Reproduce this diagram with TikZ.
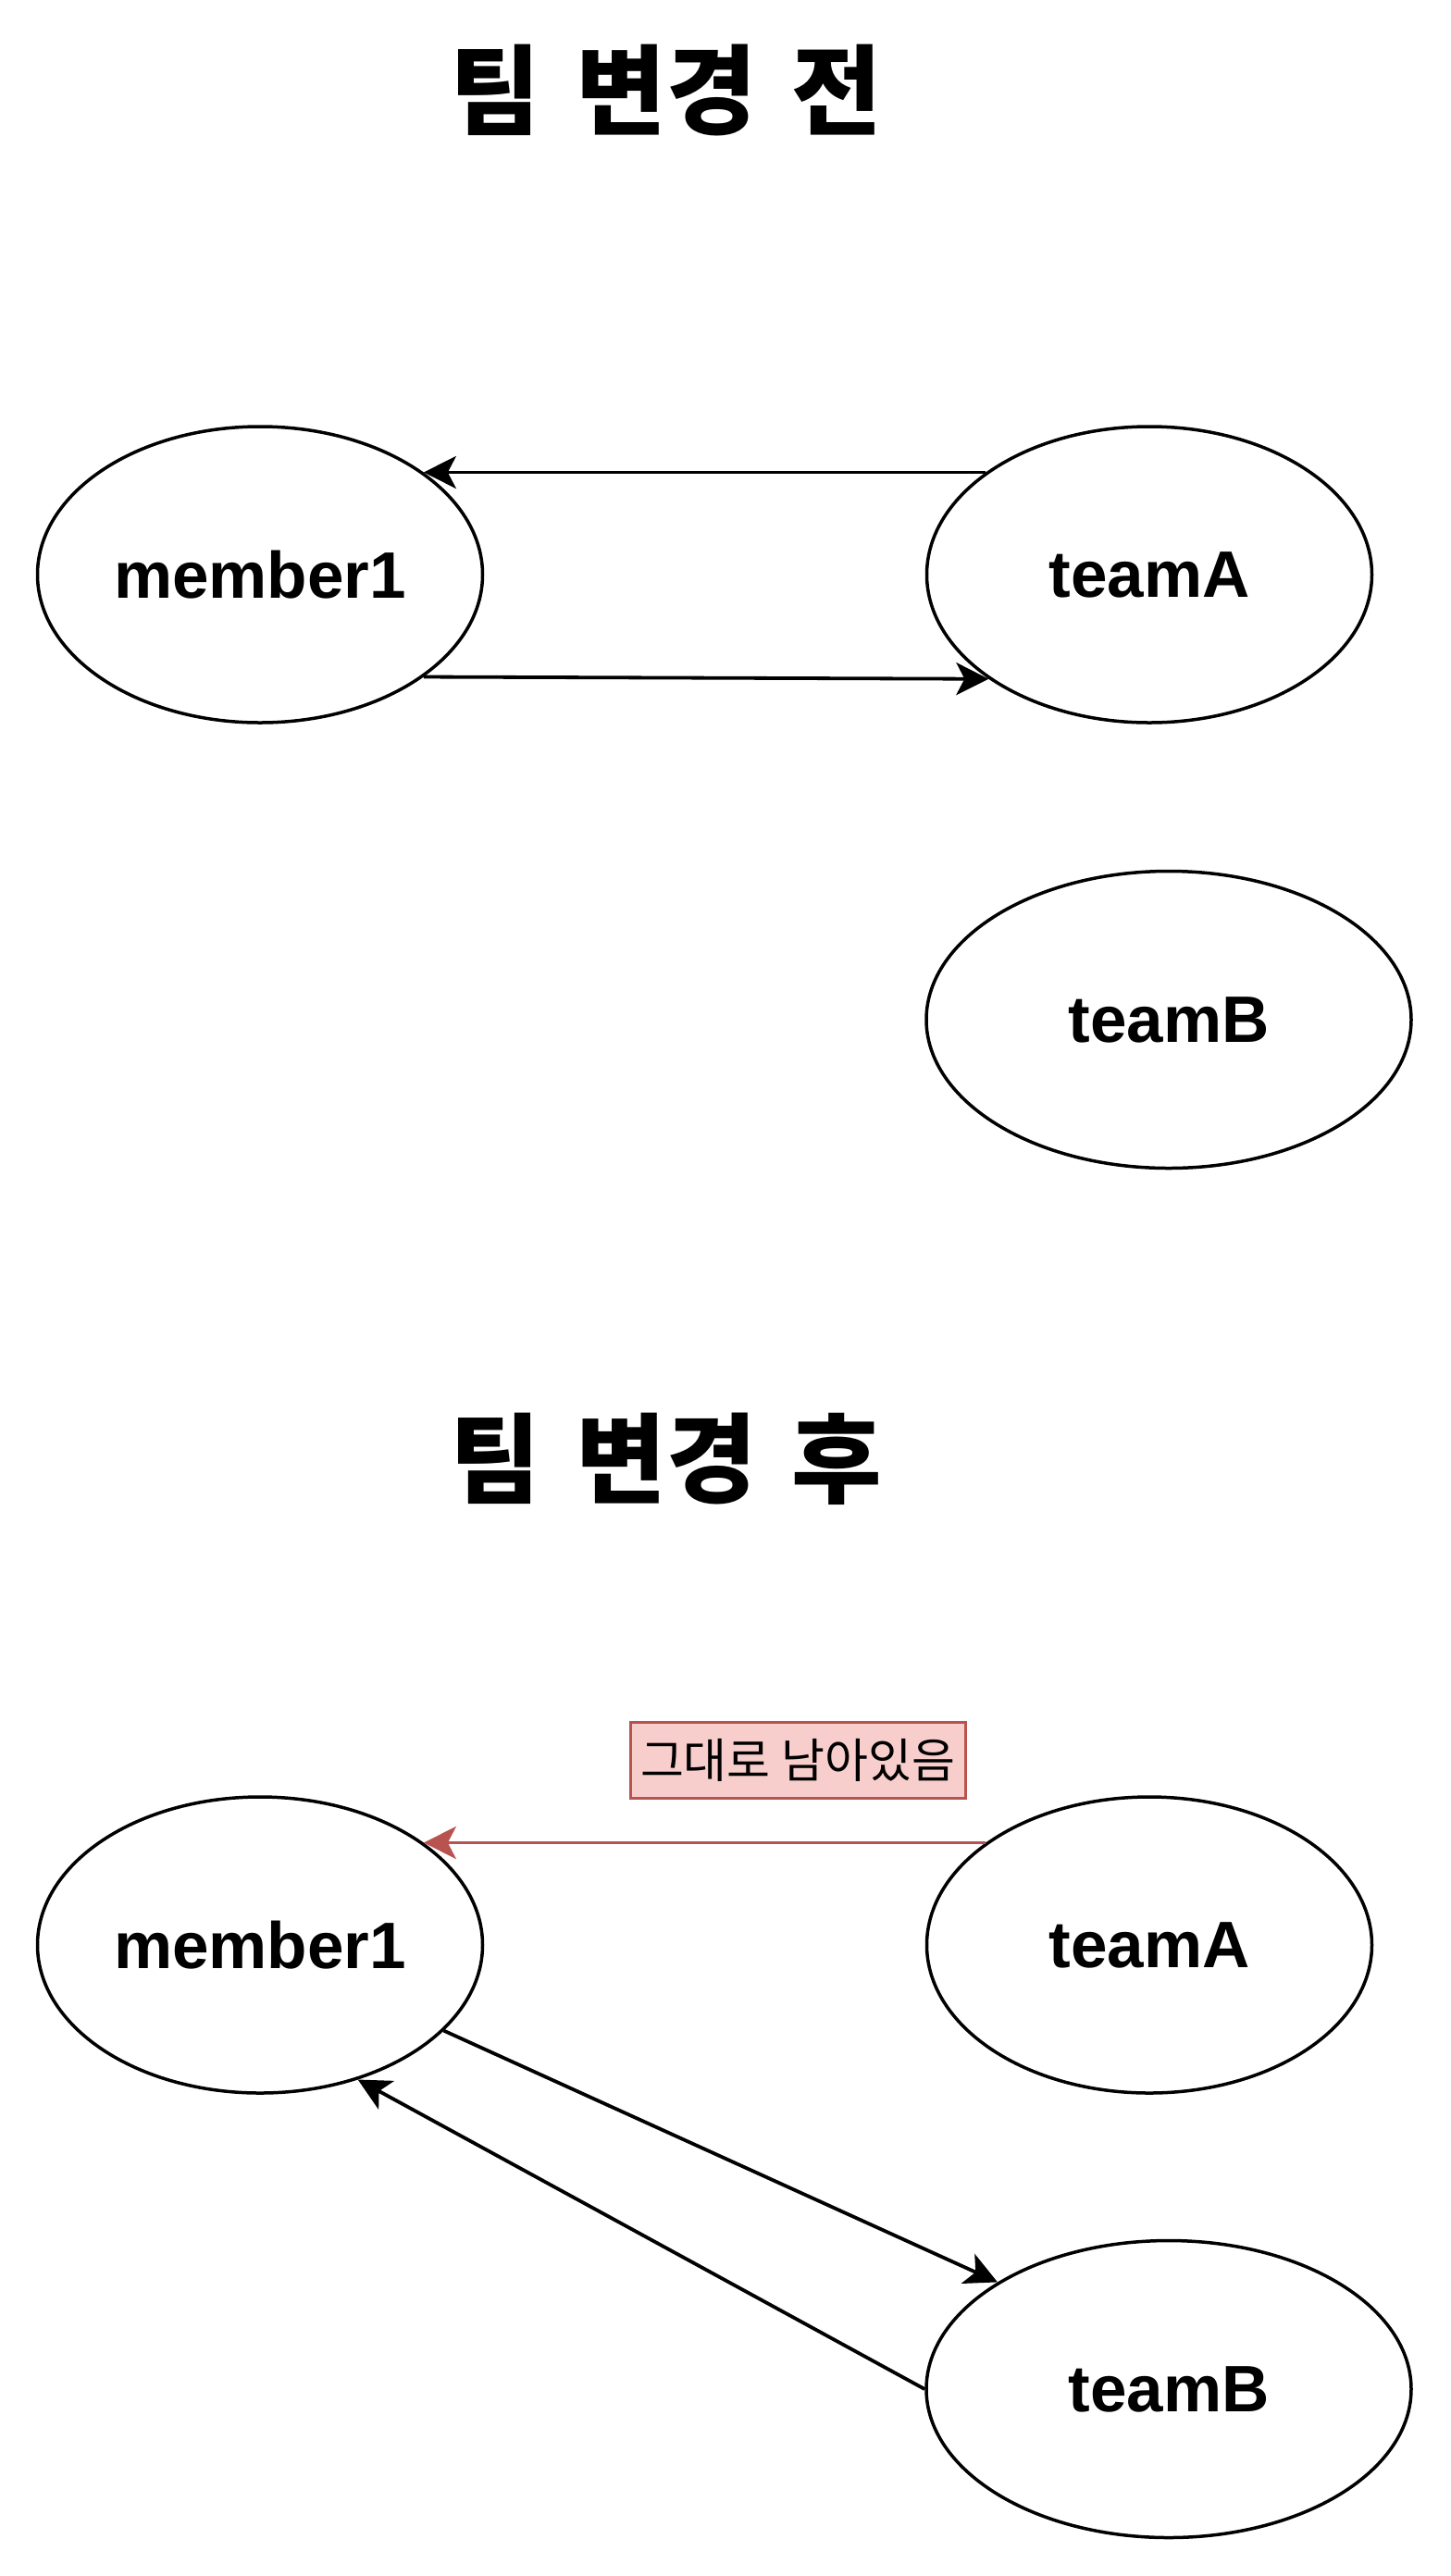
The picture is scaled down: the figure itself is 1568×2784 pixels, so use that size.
\documentclass[tikz,border=0pt]{standalone}
\usepackage{fontspec}
\setmainfont{Liberation Sans}
\newfontfamily\krfont{Noto Sans CJK KR}
\usepackage{xcolor}
\usetikzlibrary{arrows.meta,shapes.geometric}

\definecolor{noteline}{HTML}{B85450}
\definecolor{notefill}{HTML}{F8CECC}

\begin{document}
\begin{tikzpicture}[x=0.5pt,y=-0.5pt]
%style for entity node
\tikzstyle{entity} = [ellipse, draw=black, line width=1.75pt, inner sep=0pt, minimum width=240.5pt, minimum height=160pt, font=\fontsize{35.5}{40}\selectfont\bfseries]

%style for wide entity node
\tikzstyle{wentity} = [entity, minimum width=262pt, minimum height=160.5pt]

%style for title
\tikzstyle{title} = [font=\krfont\fontsize{53}{60}\selectfont\bfseries]

%style for note box
\tikzstyle{note} = [rectangle, fill=notefill, draw=noteline, line width=1.5pt, minimum width=181pt, minimum height=41pt, inner sep=0pt, font=\krfont\fontsize{25.5}{28}\selectfont]

%style for link
\tikzstyle{link} = [line width=1.9pt, -{Stealth[length=17.5pt,width=17.5pt,inset=4.5pt]}]

\useasboundingbox (0,0) rectangle (1568,2784);

%place nodes
\node[title] (titleBefore) at (720,98) {팀\hspace{0.36em}변경\hspace{0.36em}전};

\node[entity] (member1) at (281,621) {member1};

\node[entity] (teamA) at (1242,621) {teamA};

\node[wentity] (teamB) at (1263,1102) {teamB};

\node[title] (titleAfter) at (720,1577) {팀\hspace{0.36em}변경\hspace{0.36em}후};

\node[entity] (member1After) at (281,2102) {member1};

\node[entity] (teamAAfter) at (1242,2102) {teamA};

\node[wentity] (teamBAfter) at (1263,2582) {teamB};

\node[note] (keptNote) at (862,1902) {그대로 남아있음};

\draw[link] (teamA.148) -- (member1.32);
\draw[link] (member1.328) -- (teamA.213);

\draw[link, draw=noteline, fill=noteline] (teamAAfter.148) -- (member1After.32);

\draw[link] (member1After.335.5) -- (teamBAfter.148.6);
\draw[link] (teamBAfter.180) -- (member1After.306);
\end{tikzpicture}
\end{document}
